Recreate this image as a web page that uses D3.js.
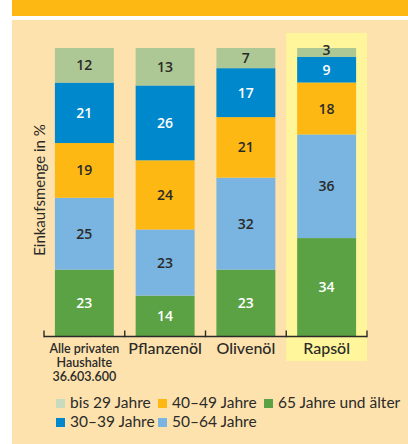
<!DOCTYPE html>
<html><head><meta charset="utf-8">
<script src="https://cdn.jsdelivr.net/npm/d3@7"></script>
<style>html,body{margin:0;padding:0;background:#fff;}svg{display:block;}</style>
</head><body>
<script>
const categories = ["Alle privaten Haushalte 36.603.600", "Pflanzenöl", "Olivenöl", "Rapsöl"];
const categoryLines = [["Alle privaten", "Haushalte", "36.603.600"], ["Pflanzenöl"], ["Olivenöl"], ["Rapsöl"]];
const seriesNames = ["bis 29 Jahre", "30–39 Jahre", "40–49 Jahre", "50–64 Jahre", "65 Jahre und älter"];
const bis29 = [12, 13, 7, 3];
const j30_39 = [21, 26, 17, 9];
const j40_49 = [19, 24, 21, 18];
const j50_64 = [25, 23, 32, 36];
const j65plus = [23, 14, 23, 34];
const highlighted = "Rapsöl";

const seriesValues = [bis29, j30_39, j40_49, j50_64, j65plus];
const colors = ["#adc894", "#0088cc", "#fdb813", "#79b5e0", "#5ba244"];
const legendColors = ["#c8dbbf", "#0088cc", "#fdb813", "#79b5e0", "#5ba244"];
const labelColors = ["#2b2a28", "#ffffff", "#2b2a28", "#2b2a28", "#ffffff"];
const textColor = "#2b2a28";
const font = "Lato, 'Noto Sans', sans-serif";
const numFont = "'Open Sans', 'Noto Sans', sans-serif";

const W = 408, H = 444;
const svg = d3.select("body").append("svg").attr("width", W).attr("height", H);

svg.append("rect").attr("x", 12).attr("y", 0).attr("width", W - 12).attr("height", 16).attr("fill", "#fdb813");
svg.append("rect").attr("x", 12).attr("y", 20).attr("width", W - 12).attr("height", H - 20).attr("fill", "#fde2ae");

const x = d3.scaleBand().domain(categories).range([44, 367]).paddingInner(0.27).paddingOuter(0.135);
const y = d3.scaleLinear().domain([0, 100]).range([336, 48]);
const step = x.step();
const gap = step * 0.27 / 2;

// highlight
const hi = categories.find(c => c.startsWith(highlighted));
svg.append("rect")
  .attr("x", x(hi) - gap).attr("width", step)
  .attr("y", 33).attr("height", 361 - 33)
  .attr("fill", "#fff59b");

// stacked data: bottom = 65+, top = bis 29
const rows = categories.map((c, i) => {
  const o = {cat: c};
  seriesNames.forEach((s, k) => o[s] = seriesValues[k][i]);
  return o;
});
const stackOrder = seriesNames.slice().reverse();
const stack = d3.stack().keys(stackOrder)(rows);

const g = svg.append("g");
stack.forEach(layer => {
  const k = seriesNames.indexOf(layer.key);
  layer.forEach(d => {
    g.append("rect")
      .attr("x", x(d.data.cat)).attr("width", x.bandwidth())
      .attr("y", y(d[1])).attr("height", y(d[0]) - y(d[1]))
      .attr("fill", colors[k]);
  });
});
stack.forEach(layer => {
  const k = seriesNames.indexOf(layer.key);
  layer.forEach(d => {
    const v = d[1] - d[0];
    let cy = (y(d[0]) + y(d[1])) / 2;
    if (v < 5) cy -= 2;
    g.append("text")
      .attr("x", x(d.data.cat) + x.bandwidth() / 2)
      .attr("y", cy)
      .attr("dy", "0.36em")
      .attr("text-anchor", "middle")
      .attr("font-family", numFont).attr("font-size", 14).attr("font-weight", 600)
      .attr("fill", labelColors[k])
      .text(v);
  });
});

// axis
const tickXs = categories.map(c => x(c) - gap).concat([x(categories[categories.length - 1]) - gap + step]);
const ax = svg.append("g").attr("stroke", textColor).attr("stroke-width", 1.4).attr("fill", "none");
ax.append("line").attr("x1", tickXs[0]).attr("x2", tickXs[tickXs.length - 1]).attr("y1", 336.5).attr("y2", 336.5);
tickXs.forEach(t => ax.append("line").attr("x1", t).attr("x2", t).attr("y1", 330.5).attr("y2", 337.2));

// category labels
categoryLines.forEach((lines, i) => {
  const cx = x(categories[i]) + x.bandwidth() / 2;
  const multi = lines.length > 1;
  lines.forEach((ln, j) => {
    svg.append("text")
      .attr("x", cx).attr("y", multi ? 353 + j * 14 : 354)
      .attr("text-anchor", "middle")
      .attr("font-family", font).attr("font-size", multi ? 12.5 : 16)
      .attr("font-weight", multi ? 600 : 500)
      .attr("fill", textColor).text(ln);
  });
});

// y axis title
svg.append("text")
  .attr("transform", "translate(45,190) rotate(-90)")
  .attr("text-anchor", "middle")
  .attr("font-family", font).attr("font-size", 15)
  .attr("fill", textColor).text("Einkaufsmenge in %");

// legend
const legendPos = [[56, 408], [56, 427], [158, 408], [158, 427], [264, 408]];
seriesNames.forEach((s, k) => {
  const [lx, ly] = legendPos[k];
  svg.append("rect").attr("x", lx).attr("y", ly - 9).attr("width", 9).attr("height", 9).attr("fill", legendColors[k]);
  svg.append("text").attr("x", lx + 14).attr("y", ly)
    .attr("font-family", font).attr("font-size", 15.5)
    .attr("fill", textColor).text(s);
});
</script>
</body></html>
